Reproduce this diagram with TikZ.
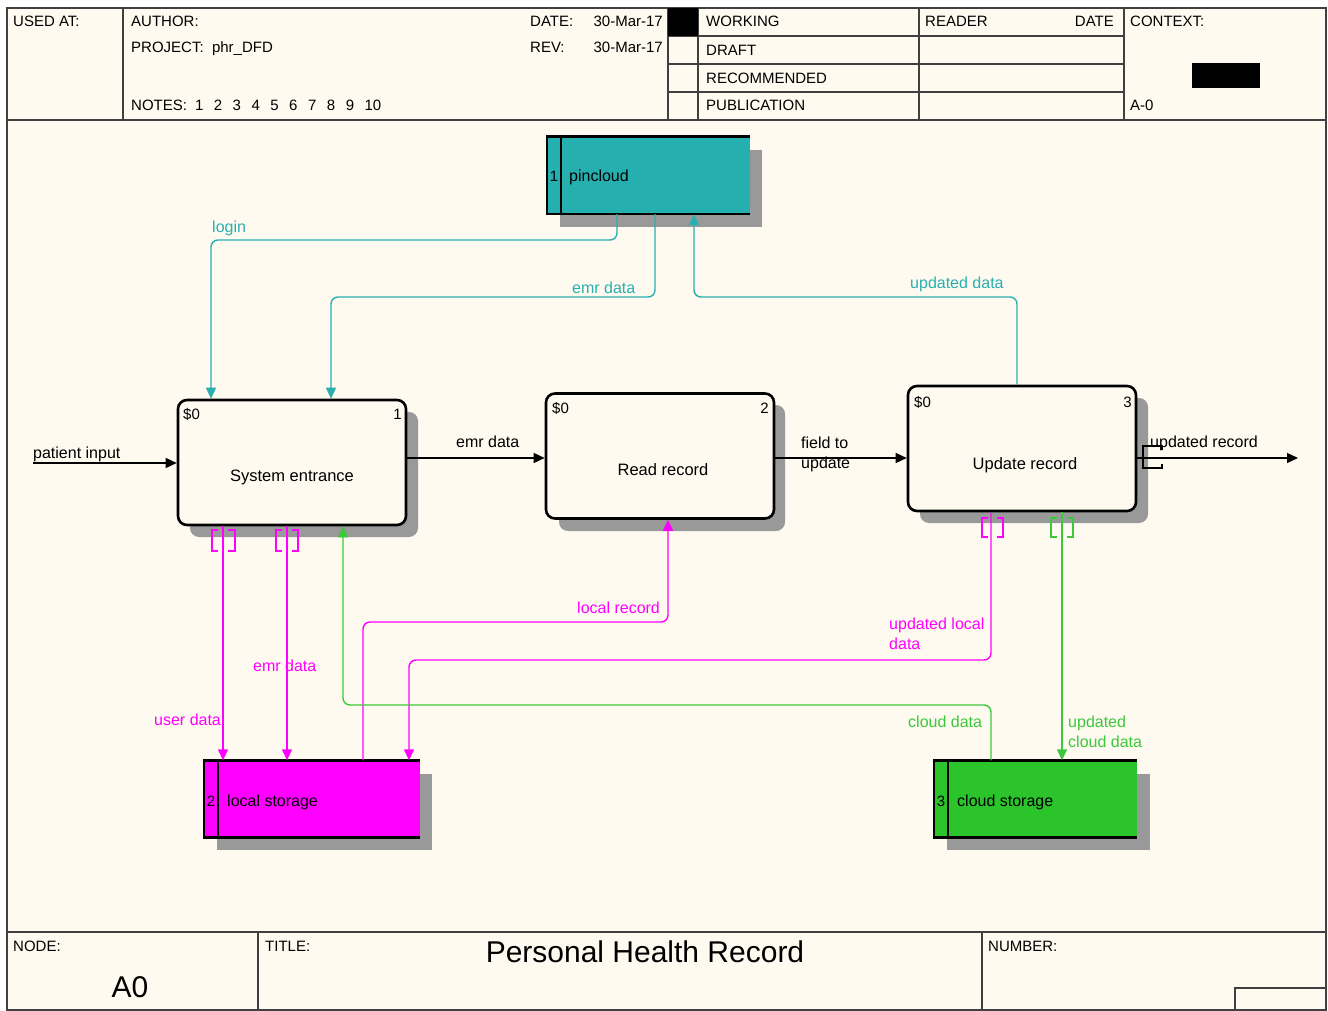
\documentclass[tikz,border=0pt]{standalone}
\usepackage{fontspec}
\setmainfont{Liberation Sans}
\usetikzlibrary{arrows.meta}
\definecolor{cream}{RGB}{255,250,240}
\definecolor{tealc}{RGB}{38,175,175}
\definecolor{tealline}{RGB}{40,176,176}
\definecolor{mag}{RGB}{255,0,255}
\definecolor{grn}{RGB}{43,196,43}
\definecolor{grnline}{RGB}{60,200,60}
\begin{document}
\begin{tikzpicture}[x=1pt,y=-1pt,
  txt/.style={inner sep=0pt, anchor=west, font=\fontsize{15}{20}\selectfont, text height=11pt, text depth=3pt, yshift=-2pt},
  lbl/.style={inner sep=0pt, anchor=west, font=\fontsize{16}{20}\selectfont, text height=11pt, text depth=3pt, yshift=-2pt},
  mlbl/.style={inner sep=0pt, anchor=north west, align=left, font=\fontsize{16}{20}\selectfont},
  ptxt/.style={inner sep=0pt, font=\fontsize{16.5}{20}\selectfont, text height=11pt, text depth=3pt, yshift=-2pt},
  frm/.style={line width=1.6pt, draw=black!75},
  proc/.style={draw=black, line width=2.6pt, rounded corners=9pt, fill=cream, inner sep=0pt,
     minimum width=228pt, minimum height=125pt},
  shd/.style={fill=black!40},
  store/.style={inner sep=0pt, minimum width=203pt, minimum height=77pt},
  sline/.style={line width=2.6pt, draw=black},
  con/.style={line width=1.4pt, rounded corners=7pt},
  arr/.style={-{Triangle[length=11pt,width=10pt]}},
  brk/.style={line width=1.4pt}
]
\useasboundingbox (0,0) rectangle (1328,1011);
\fill[white] (0,0) rectangle (1328,1011);
\fill[cream] (7,8) rectangle (1326,1010);

% ---------- header ----------
\draw[frm] (7,8) rectangle (1326,1010);
\draw[frm] (7,120) -- (1326,120);
\draw[frm] (123,8) -- (123,120);
\draw[frm] (668,8) -- (668,120);
\draw[frm] (698,8) -- (698,120);
\draw[frm] (919,8) -- (919,120);
\draw[frm] (1124,8) -- (1124,120);
\draw[frm] (668,36) -- (1124,36);
\draw[frm] (668,64) -- (1124,64);
\draw[frm] (668,92) -- (1124,92);
\fill[black] (668,8) rectangle (698,36);
\fill[black] (1192,63) rectangle (1260,88);

\node[txt] (usedat) at (13,21) {USED AT:};
\node[txt] (author) at (131,21) {AUTHOR:};
\node[txt] (project) at (131,47) {PROJECT:\ \ phr\_DFD};
\node[txt] (notes) at (131,105) {NOTES:\hspace{8pt}1\hspace{10.5pt}2\hspace{10.5pt}3\hspace{10.5pt}4\hspace{10.5pt}5\hspace{10.5pt}6\hspace{10.5pt}7\hspace{10.5pt}8\hspace{10.5pt}9\hspace{10.5pt}10};
\node[txt,anchor=west] (date) at (530,21) {DATE:};
\node[txt,anchor=east] (dateval) at (663,21) {30-Mar-17};
\node[txt,anchor=west] (rev) at (530,47) {REV:};
\node[txt,anchor=east] (revval) at (663,47) {30-Mar-17};
\node[txt] (working) at (706,21) {WORKING};
\node[txt] (draft) at (706,50) {DRAFT};
\node[txt] (recommended) at (706,78) {RECOMMENDED};
\node[txt] (publication) at (706,105) {PUBLICATION};
\node[txt] (reader) at (925,21) {READER};
\node[txt,anchor=east] (rdate) at (1114,21) {DATE};
\node[txt] (context) at (1130,21) {CONTEXT:};
\node[txt] (aminus) at (1130,105) {A-0};

% ---------- footer ----------
\draw[frm] (7,932) -- (1326,932);
\draw[frm] (258,932) -- (258,1010);
\draw[frm] (982,932) -- (982,1010);
\draw[frm] (1235,988) rectangle (1326,1010);
\node[txt] (nodelbl) at (13,945) {NODE:};
\node[txt] (titlelbl) at (265,945) {TITLE:};
\node[txt] (numberlbl) at (988,945) {NUMBER:};
\node[inner sep=0pt, font=\fontsize{30}{34}\selectfont] (a0) at (130,987) {A0};
\node[inner sep=0pt, font=\fontsize{30}{34}\selectfont] (title) at (645,952) {Personal Health Record};

% ---------- shadows ----------
\fill[shd,rounded corners=9pt] (190,412) rectangle (418,537);
\fill[shd,rounded corners=9pt] (559,405) rectangle (785,531);
\fill[shd,rounded corners=9pt] (920,398) rectangle (1148,523);
\fill[shd] (560,150) rectangle (762,227);
\fill[shd] (217,774) rectangle (432,850);
\fill[shd] (947,774) rectangle (1150,850);

% ---------- processes ----------
\node[proc] (se) at (292,462.5) {};
\node[proc] (rr) at (660,456) {};
\node[proc] (ur) at (1022,448.5) {};
\node[ptxt] (setext) at (292,475) {System entrance};
\node[ptxt] (rrtext) at (663,469) {Read record};
\node[ptxt] (urtext) at (1025,463) {Update record};
\node[txt] (se0) at (183,413) {\$0};
\node[txt,anchor=east] (se1) at (402,413) {1};
\node[txt] (rr0) at (552,407) {\$0};
\node[txt,anchor=east] (rr1) at (769,407) {2};
\node[txt] (ur0) at (914,401) {\$0};
\node[txt,anchor=east] (ur1) at (1132,401) {3};

% ---------- data stores ----------
\node[store, fill=tealc] (pin) at (648.5,175.5) {};
\draw[sline] (pin.north east) -- (pin.north west) -- (pin.south west) -- (pin.south east);
\draw[sline] (561,0 |- pin.north) -- (561,0 |- pin.south);
\node[txt,anchor=center] (pinnum) at (554,176) {1};
\node[lbl] (pinname) at (569,176) {pincloud};

\node[store, fill=mag, minimum width=216pt] (loc) at (312,799) {};
\draw[sline] (loc.north east) -- (loc.north west) -- (loc.south west) -- (loc.south east);
\draw[sline] (218,0 |- loc.north) -- (218,0 |- loc.south);
\node[txt,anchor=center] (locnum) at (211,800) {2};
\node[lbl] (locname) at (227,800) {local storage};

\node[store, fill=grn] (cld) at (1035.5,799) {};
\draw[sline] (cld.north east) -- (cld.north west) -- (cld.south west) -- (cld.south east);
\draw[sline] (948,0 |- cld.north) -- (948,0 |- cld.south);
\node[txt,anchor=center] (cldnum) at (941,800) {3};
\node[lbl] (cldname) at (957,800) {cloud storage};

% ---------- black connectors ----------
\coordinate (pstart) at (33,463);
\coordinate (urend) at (1298,458);
\draw[con,arr] (pstart) -- (pstart -| se.west);
\draw[con,arr] (se.east |- 0,458) -- (rr.west |- 0,458);
\draw[con,arr] (rr.east |- 0,458) -- (ur.west |- 0,458);
\draw[con,arr] (ur.east |- 0,458) -- (urend);
\draw[brk] (1162,450) -- (1162,446) -- (1143,446) -- (1143,468) -- (1162,468) -- (1162,464);
\node[lbl] (lpatient) at (33,452) {patient input};
\node[lbl] (lemr1) at (456,441) {emr data};
\node[mlbl] (lfield) at (801,437) {field to\\update};
\node[lbl] (lupdrec) at (1150,441) {updated record};

% ---------- teal connectors ----------
\draw[con,arr,tealline] (617,0 |- pin.south) -- (617,240) -- (211,240) -- (211,0 |- se.north);
\draw[con,arr,tealline] (655,0 |- pin.south) -- (655,297) -- (331,297) -- (331,0 |- se.north);
\draw[con,arr,tealline] (1017,0 |- ur.north) -- (1017,297) -- (694,297) -- (694,0 |- pin.south);
\node[lbl,text=tealline] (llogin) at (212,227) {login};
\node[lbl,text=tealline] (lemr2) at (572,287) {emr data};
\node[lbl,text=tealline] (lupddata) at (910,282) {updated data};

% ---------- magenta connectors ----------
\draw[con,arr,mag] (223,0 |- se.south) -- (223,0 |- loc.north);
\draw[con,arr,mag] (287,0 |- se.south) -- (287,0 |- loc.north);
\draw[con,arr,mag] (363,0 |- loc.north) -- (363,622) -- (668,622) -- (668,0 |- rr.south);
\draw[con,arr,mag] (991,0 |- ur.south) -- (991,660) -- (409,660) -- (409,0 |- loc.north);
\draw[brk,mag] (218,530) -- (212,530) -- (212,551) -- (218,551);
\draw[brk,mag] (228,530) -- (235,530) -- (235,551) -- (228,551);
\draw[brk,mag] (282,530) -- (276,530) -- (276,551) -- (282,551);
\draw[brk,mag] (292,530) -- (298,530) -- (298,551) -- (292,551);
\draw[brk,mag] (988,518) -- (982,518) -- (982,537) -- (988,537);
\draw[brk,mag] (997,518) -- (1003,518) -- (1003,537) -- (997,537);
\node[lbl,text=mag] (luser) at (154,719) {user data};
\node[lbl,text=mag] (lemr3) at (253,665) {emr data};
\node[lbl,text=mag] (llocrec) at (577,607) {local record};
\node[mlbl,text=mag] (lupdloc) at (889,618) {updated local\\data};

% ---------- green connectors ----------
\draw[con,arr,grnline] (991,0 |- cld.north) -- (991,705) -- (343,705) -- (343,0 |- se.south);
\draw[con,arr,grnline] (1062,0 |- ur.south) -- (1062,0 |- cld.north);
\draw[brk,grnline] (1057,518) -- (1051,518) -- (1051,537) -- (1057,537);
\draw[brk,grnline] (1067,518) -- (1073,518) -- (1073,537) -- (1067,537);
\node[lbl,text=grnline] (lcloud) at (908,721) {cloud data};
\node[mlbl,text=grnline] (lupdcloud) at (1068,716) {updated\\cloud data};
\end{tikzpicture}
\end{document}
